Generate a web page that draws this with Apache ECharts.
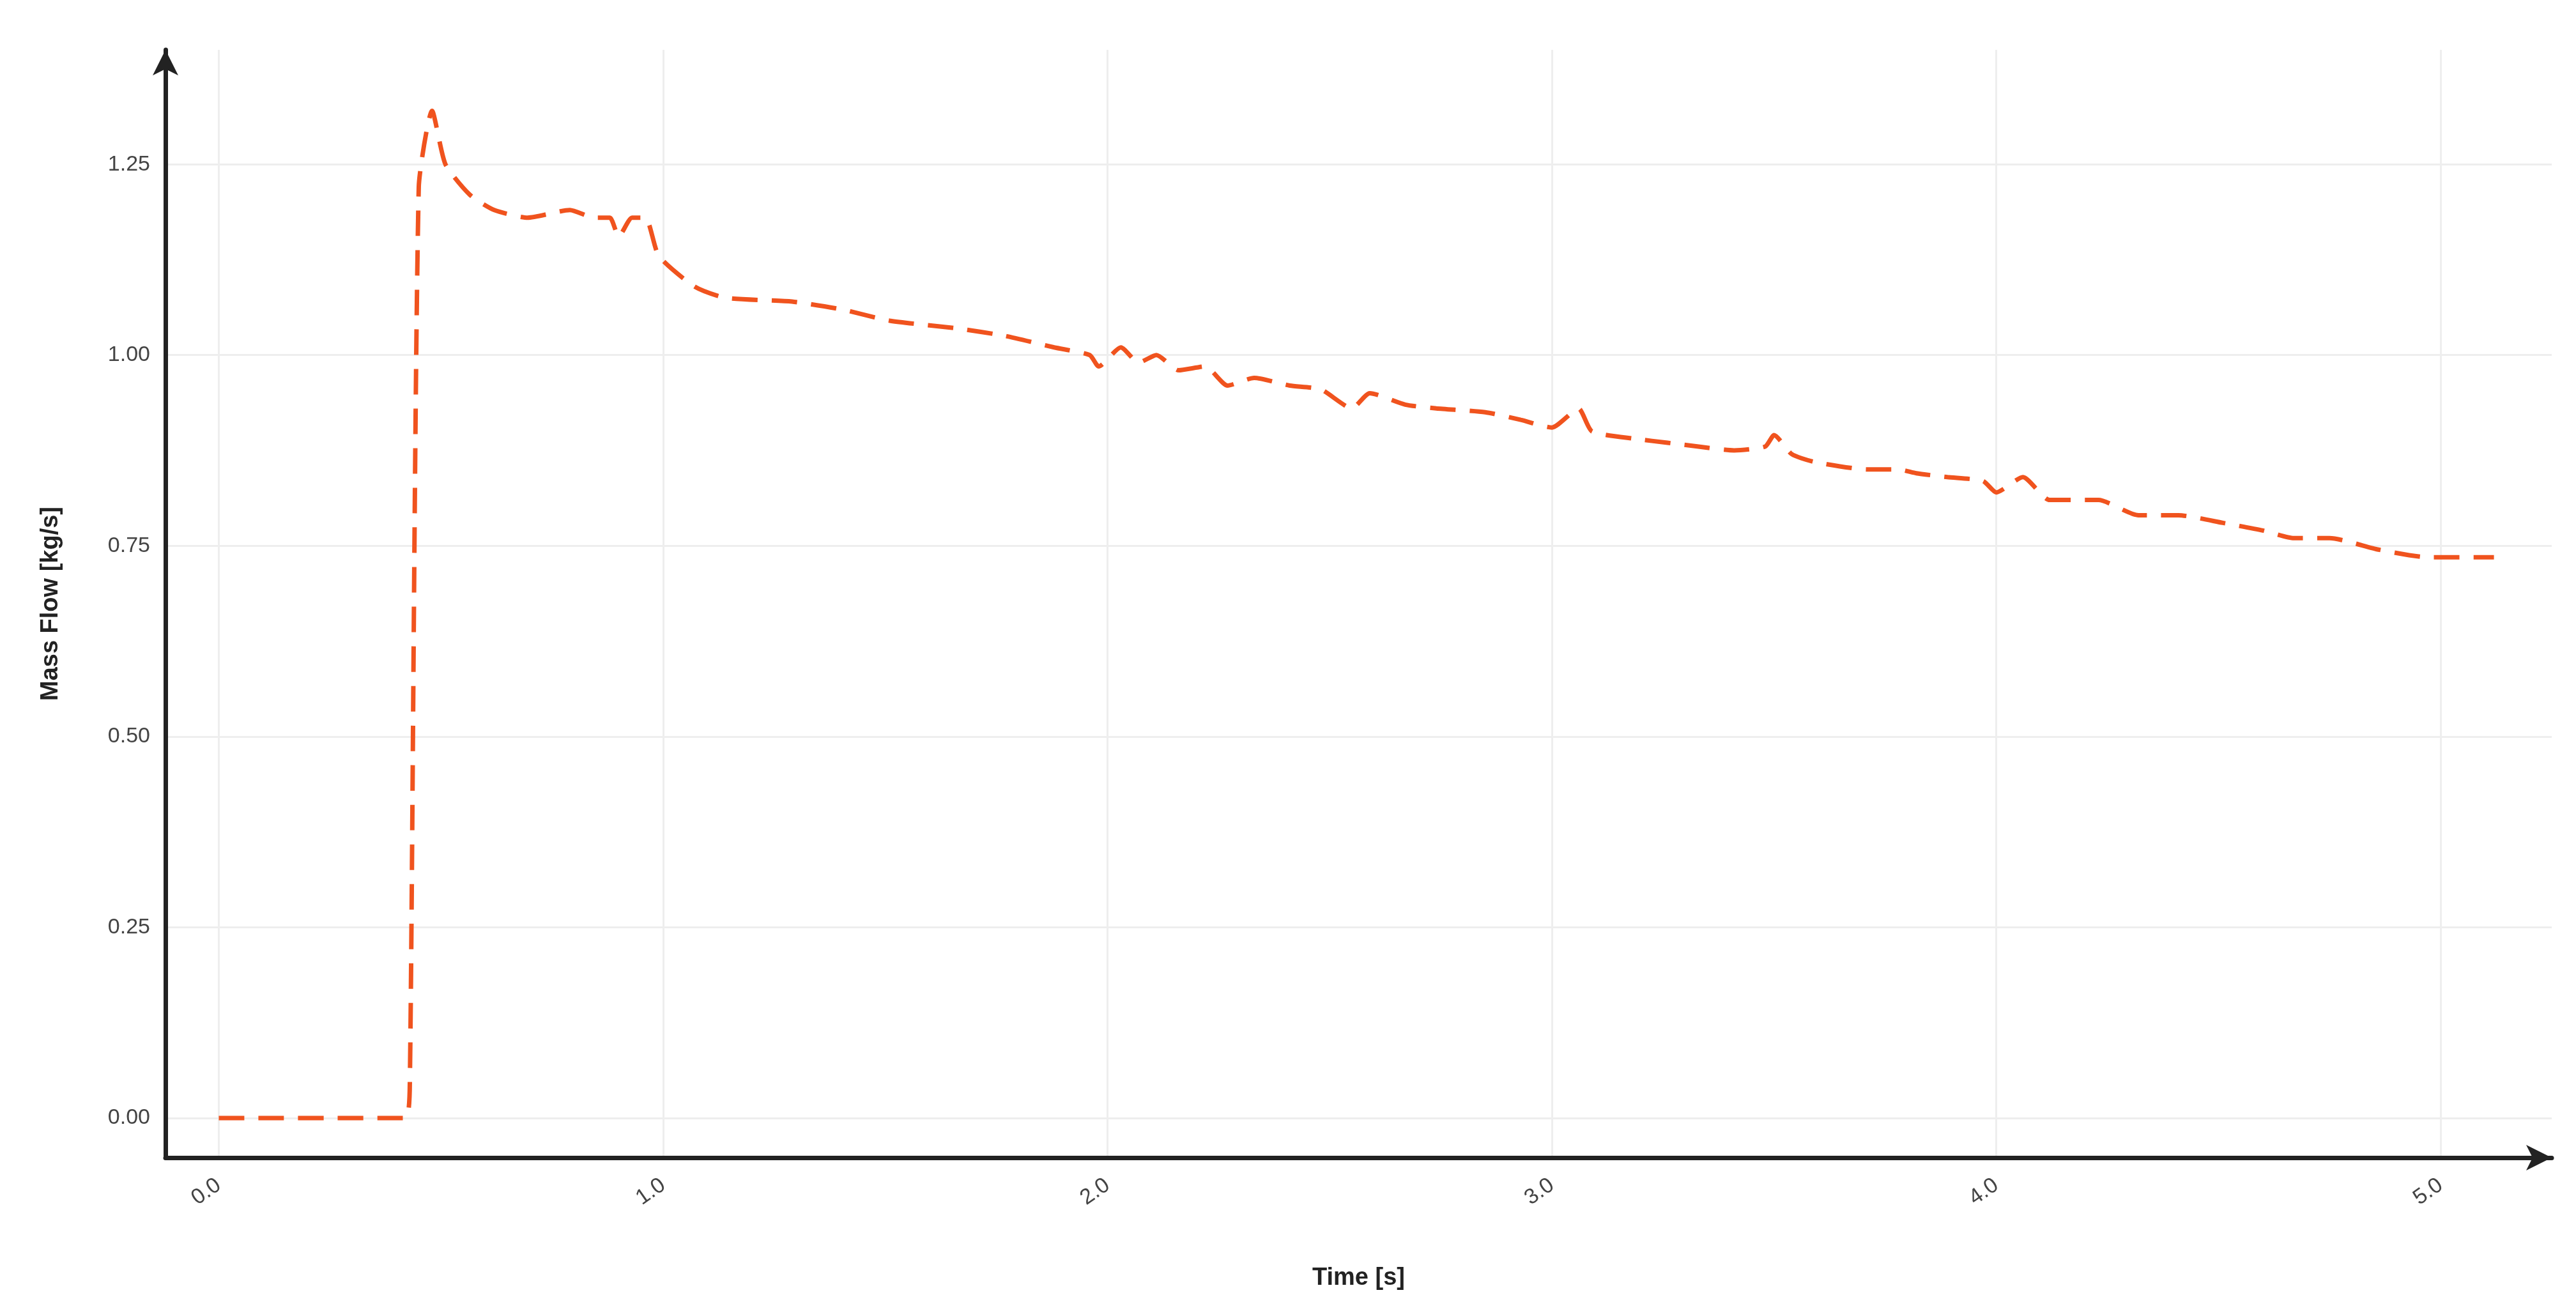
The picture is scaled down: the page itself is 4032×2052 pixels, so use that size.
<!DOCTYPE html>
<html>
<head>
<meta charset="utf-8">
<script src="https://cdn.jsdelivr.net/npm/echarts@6/dist/echarts.min.js"></script>
<style>
	html, body { margin: 0; padding: 0; background: #fff; }
	#chart { width: 4032px; height: 2052px; }
</style>
</head>
<body>
<div id="chart"></div>
<script>
	'use strict'
	/*-----data-----*/
	var times = [0, 0.42, 0.43, 0.45, 0.48, 0.51, 0.565, 0.62, 0.695, 0.79, 0.845, 0.88, 0.9, 0.93, 0.96, 0.99, 1.07, 1.14, 1.29, 1.40, 1.51, 1.66, 1.77, 1.88, 1.96, 1.98, 2.03, 2.07, 2.11, 2.16, 2.22, 2.27, 2.33, 2.41, 2.48, 2.55, 2.59, 2.67, 2.74, 2.85, 2.93, 3.0, 3.06, 3.09, 3.19, 3.26, 3.33, 3.41, 3.48, 3.50, 3.54, 3.59, 3.71, 3.78, 3.82, 3.89, 3.97, 4.0, 4.06, 4.12, 4.23, 4.32, 4.41, 4.51, 4.6, 4.67, 4.75, 4.86, 4.97, 5.12];
	var massFlow = [0, 0, 0.05, 1.22, 1.32, 1.25, 1.21, 1.19, 1.18, 1.19, 1.18, 1.18, 1.155, 1.18, 1.18, 1.13, 1.09, 1.075, 1.07, 1.06, 1.045, 1.035, 1.025, 1.01, 1.0, 0.985, 1.01, 0.99, 1.0, 0.98, 0.985, 0.96, 0.97, 0.96, 0.955, 0.93, 0.95, 0.935, 0.93, 0.925, 0.915, 0.905, 0.93, 0.9, 0.89, 0.885, 0.88, 0.875, 0.88, 0.895, 0.87, 0.86, 0.85, 0.85, 0.845, 0.84, 0.835, 0.82, 0.84, 0.81, 0.81, 0.79, 0.79, 0.78, 0.77, 0.76, 0.76, 0.745, 0.735, 0.735];
	var xTicks = [0, 1, 2, 3, 4, 5];
	var yTicks = [0, 0.25, 0.5, 0.75, 1.0, 1.25];

	var points = times.map(function(t, i) { return [t, massFlow[i]]; });
	var font = '"Liberation Sans Narrow", "Liberation Sans", sans-serif';

	var chart = echarts.init(document.getElementById('chart'));
	chart.setOption({
		animation: false,
		grid: {
			top: 78,
			bottom: 240,
			left: 259,
			right: 38
		},
		xAxis: {
			type: 'value',
			min: -0.12,
			max: 5.25,
			name: 'Time [s]',
			nameLocation: 'middle',
			nameGap: 170,
			nameTextStyle: { fontFamily: font, fontSize: 38, fontWeight: 'bold', color: '#222' },
			axisLine: {
				onZero: false,
				lineStyle: { color: '#222', width: 7 },
				symbol: ['none', 'arrow'],
				symbolSize: [30, 40]
			},
			axisTick: { show: false, customValues: xTicks },
			axisLabel: {
				customValues: xTicks,
				rotate: 35,
				margin: 40,
				fontFamily: font,
				fontSize: 34,
				color: '#444',
				formatter: function(v) { return v.toFixed(1); }
			},
			splitLine: { show: true, lineStyle: { color: '#eeeeee', width: 3 } }
		},
		yAxis: {
			type: 'value',
			min: -0.052,
			max: 1.40,
			name: 'Mass Flow [kg/s]',
			nameLocation: 'middle',
			nameGap: 160,
			nameTextStyle: { fontFamily: font, fontSize: 38, fontWeight: 'bold', color: '#222' },
			axisLine: {
				show: true,
				onZero: false,
				lineStyle: { color: '#222', width: 7 },
				symbol: ['none', 'arrow'],
				symbolSize: [30, 40]
			},
			axisTick: { show: false, customValues: yTicks },
			axisLabel: {
				customValues: yTicks,
				margin: 24,
				fontFamily: font,
				fontSize: 34,
				color: '#444',
				formatter: function(v) { return v.toFixed(2); }
			},
			splitLine: { show: true, lineStyle: { color: '#eeeeee', width: 3 } }
		},
		series: [{
			type: 'line',
			data: points,
			showSymbol: false,
			smooth: 0.2,
			lineStyle: { color: '#f0531e', width: 7, type: [40, 22] }
		}]
	});
</script>
</body>
</html>
